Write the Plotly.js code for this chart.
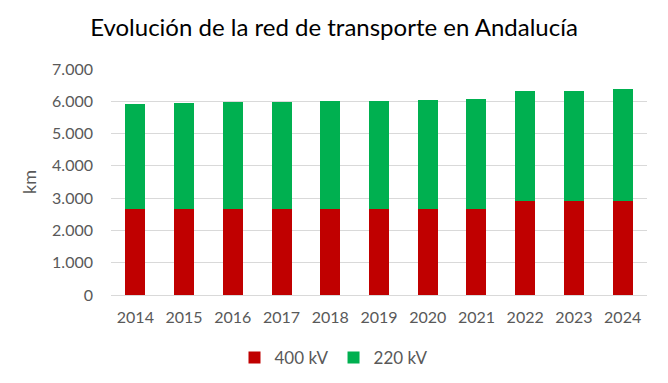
<!DOCTYPE html>
<html>
<head>
<meta charset="utf-8">
<script src="https://cdn.plot.ly/plotly-3.0.1.min.js"></script>
<style>html,body{margin:0;padding:0;background:#fff;}#chart{width:668px;height:383px;}</style>
</head>
<body>
<div id="chart"></div>
<script>
const years = ['2014','2015','2016','2017','2018','2019','2020','2021','2022','2023','2024'];
const kv400 = [2660, 2660, 2660, 2660, 2660, 2660, 2660, 2660, 2910, 2910, 2910];
const kv220 = [3250, 3290, 3315, 3315, 3345, 3345, 3375, 3405, 3405, 3405, 3465];

const font = 'Lato, "Open Sans", sans-serif';
const data = [
  {type:'bar', name:'400 kV', x:years, y:kv400, marker:{color:'#c00000'}, hoverinfo:'y+name'},
  {type:'bar', name:'220 kV', x:years, y:kv220, marker:{color:'#00b050'}, hoverinfo:'y+name'}
];
const layout = {
  width:668, height:383,
  margin:{l:111, r:21, t:69, b:88},
  barmode:'stack', bargap:0.59,
  separators:',.',
  paper_bgcolor:'#fff', plot_bgcolor:'#fff',
  font:{family:font, color:'#595959', size:16},
  title:{text:'Evolución de la red de transporte en Andalucía', font:{family:font, size:24, color:'#000'}, x:0.5, xanchor:'center', y:1-28/383, yanchor:'middle', yref:'container'},
  xaxis:{type:'category', showgrid:false, showline:false, ticks:'', ticklabelstandoff:11, tickfont:{size:16, color:'#595959'}},
  yaxis:{range:[0,7000], dtick:1000, tickformat:',d', gridcolor:'#d9d9d9', gridwidth:1, zeroline:true, zerolinecolor:'#d9d9d9', zerolinewidth:1, showline:false, ticks:'', ticklen:0, ticklabelstandoff:17, tickfont:{size:16, color:'#595959'},
    title:{text:'km', font:{size:18, color:'#595959'}, standoff:10}},
  legend:{orientation:'h', xref:'container', yref:'container', x:0.5, xanchor:'center', y:1-358/383, yanchor:'middle', font:{size:17, color:'#595959'}, traceorder:'normal', itemwidth:30},
  showlegend:true
};
Plotly.newPlot('chart', data, layout, {displayModeBar:false});
</script>
</body>
</html>
